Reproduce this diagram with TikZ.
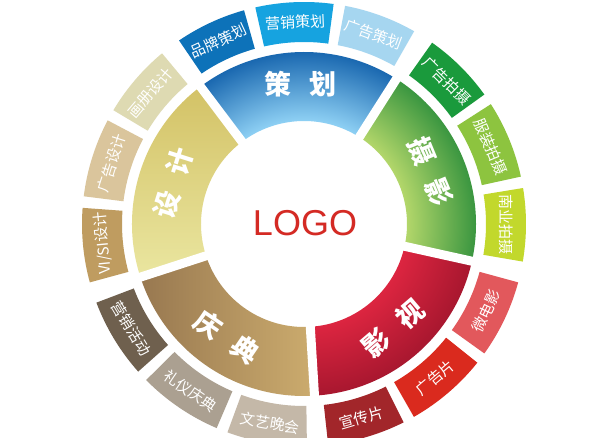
\documentclass[tikz,border=0pt]{standalone}
\usepackage{fontspec}
\setmainfont{Liberation Sans}
\newfontfamily\cjk{Noto Sans CJK SC}
\definecolor{blueIn}{HTML}{8ED0F4}
\definecolor{blueOut}{HTML}{1A68B0}
\definecolor{greenIn}{HTML}{B2D66A}
\definecolor{greenOut}{HTML}{3A9640}
\definecolor{redIn}{HTML}{DC2540}
\definecolor{redOut}{HTML}{A8172F}
\definecolor{qdDark}{HTML}{987850}
\definecolor{qdLight}{HTML}{CCAC6E}
\definecolor{sjTop}{HTML}{D3C266}
\definecolor{sjBot}{HTML}{EAE6A0}
\definecolor{logoRed}{HTML}{D42A24}
\definecolor{cPinpai}{HTML}{0D72B9}
\definecolor{cYingxiao}{HTML}{16A3E0}
\definecolor{cGgch}{HTML}{A6D6F0}
\definecolor{cGgps}{HTML}{1A9A3C}
\definecolor{cFzps}{HTML}{8DC43F}
\definecolor{cNyps}{HTML}{C2D82C}
\definecolor{cWdy}{HTML}{E2585C}
\definecolor{cGgp}{HTML}{DA2A1E}
\definecolor{cXcp}{HTML}{A2262A}
\definecolor{cWywh}{HTML}{C4B8A8}
\definecolor{cLyqd}{HTML}{ABA091}
\definecolor{cYxhd}{HTML}{6F604E}
\definecolor{cVisi}{HTML}{BF9C60}
\definecolor{cGgsj}{HTML}{DAC59C}
\definecolor{cHcsj}{HTML}{DEDAB2}
\pgfdeclareradialshading{shBlue}{\pgfpoint{0bp}{0bp}}{color(0bp)=(blueIn); color(15bp)=(blueIn); color(25bp)=(blueOut); color(50bp)=(blueOut)}
\pgfdeclareradialshading{shGreen}{\pgfpoint{0bp}{0bp}}{color(0bp)=(greenIn); color(15bp)=(greenIn); color(25bp)=(greenOut); color(50bp)=(greenOut)}
\pgfdeclareradialshading{shRed}{\pgfpoint{0bp}{0bp}}{color(0bp)=(redIn); color(15bp)=(redIn); color(25bp)=(redOut); color(50bp)=(redOut)}
\newcommand\secpath[4]{(#1:#3) arc[start angle=#1,end angle=#2,radius=#3] -- (#2:#4) arc[start angle=#2,end angle=#1,radius=#4] -- cycle}
\tikzset{
  biglabel/.style={text=white,font=\cjk\bfseries\fontsize{27}{27}\selectfont,inner sep=0pt},
  boxlabel/.style={text=white,font=\cjk\fontsize{15}{15}\selectfont,inner sep=0pt},
  gapline/.style={white,line width=9pt}
}
\begin{document}
\begin{tikzpicture}[x=1pt,y=1pt]
\useasboundingbox (0,0) rectangle (607,438);
\clip (0,0) rectangle (607,438);
\fill[white] (0,0) rectangle (607,438);
\begin{scope}[shift={(304,214)}]
  % inner sectors
  \begin{scope}\clip \secpath{57.5}{127}{103pt}{172pt}; \shade[shading=shBlue] (0,0) circle (172pt);\end{scope}
  \begin{scope}\clip \secpath{-12.5}{57.5}{103pt}{172pt}; \shade[shading=shGreen] (0,0) circle (172pt);\end{scope}
  \begin{scope}\clip \secpath{273.5}{347.5}{103pt}{172pt}; \shade[shading=shRed] (0,0) circle (172pt);\end{scope}
  \shade[left color=qdDark,right color=qdLight] \secpath{198}{273.5}{103pt}{172pt};
  \shade[top color=sjTop,bottom color=sjBot] \secpath{127}{198}{103pt}{172pt};
  % gaps between inner sectors
  \foreach \g in {57.5,127,198,273.5,347.5}
    \draw[gapline] (\g:95pt) -- (\g:176pt);
  % outer boxes
  \foreach \a/\b/\col in {-9.75/9.33/cNyps,12.33/32.67/cFzps,35.67/54.75/cGgps,
      60.25/79.33/cGgch,82.33/102.67/cYingxiao,105.67/124.25/cPinpai,
      129.75/149.17/cHcsj,152.17/172.83/cGgsj,175.83/195.25/cVisi,
      200.75/221.67/cYxhd,224.67/246.83/cLyqd,249.83/270.75/cWywh,
      276.25/296.67/cXcp,299.67/321.33/cGgp,324.33/344.75/cWdy}
    \fill[\col] \secpath{\a}{\b}{182pt}{222pt};
  % outer labels
  \node[boxlabel,rotate=-90] (nyps) at (-0.2:202pt) {南业拍摄};
  \node[boxlabel,rotate=-67.5] (fzps) at (22.5:202pt) {服装拍摄};
  \node[boxlabel,rotate=-44.8] (ggps) at (45.2:202pt) {广告拍摄};
  \node[boxlabel,rotate=-20.2] (ggch) at (69.8:202pt) {广告策划};
  \node[boxlabel,rotate=2.5] (yxch) at (92.5:202pt) {营销策划};
  \node[boxlabel,rotate=25] (ppch) at (115:202pt) {品牌策划};
  \node[boxlabel,rotate=49.5] (hcsj) at (139.5:202pt) {画册设计};
  \node[boxlabel,rotate=72.5] (ggsj) at (162.5:202pt) {广告设计};
  \node[boxlabel,rotate=95.5] (visi) at (185.5:202pt) {VI/SI设计};
  \node[boxlabel,rotate=-58.8] (yxhd) at (211.2:202pt) {营销活动};
  \node[boxlabel,rotate=-34.25] (lyqd) at (235.75:202pt) {礼仪庆典};
  \node[boxlabel,rotate=-9.7] (wywh) at (260.3:202pt) {文艺晚会};
  \node[boxlabel,rotate=16.5] (xcp) at (286.5:202pt) {宣传片};
  \node[boxlabel,rotate=40.5] (ggp) at (310.5:202pt) {广告片};
  \node[boxlabel,rotate=64.5] (wdy) at (334.5:202pt) {微电影};
  % inner labels
  \node[biglabel] (chehua) at (91.5:140pt) {策\hspace{18pt}划};
  \node[biglabel,rotate=-67.5] (sheying) at (22.5:137pt) {摄\hspace{18pt}影};
  \node[biglabel,rotate=40.5] (yingshi) at (310.5:137pt) {影\hspace{18pt}视};
  \node[biglabel,rotate=-34.25] (qingdian) at (235.75:137pt) {庆\hspace{18pt}典};
  \node[biglabel,rotate=72.5] (sheji) at (162.5:137pt) {设\hspace{18pt}计};
  % logo
  \node[text=logoRed,font=\fontsize{36}{36}\selectfont,inner sep=0pt] (logo) at (1,1) {LOGO};
\end{scope}
\end{tikzpicture}
\end{document}
